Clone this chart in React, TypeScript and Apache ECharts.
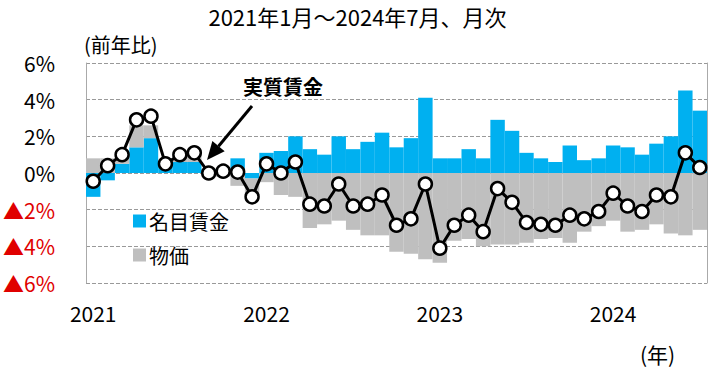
import React, { useEffect, useRef } from "react";
import * as echarts from "echarts";

const months: string[] = [];
for (let y = 2021; y <= 2024; y++) {
  for (let m = 1; m <= 12; m++) {
    if (y === 2024 && m > 7) break;
    months.push(`${y}-${String(m).padStart(2, "0")}`);
  }
}

// 名目賃金 (nominal wage, YoY %)
const nominal = [
  -1.3, -0.4, 0.5, 1.4, 1.9, 0.5, 0.6, 0.6, 0.2, 0.2, 0.8, -0.3,
  1.1, 1.2, 2.0, 1.3, 1.0, 2.0, 1.3, 1.7, 2.2, 1.4, 1.9, 4.1,
  0.8, 0.8, 1.3, 0.8, 2.9, 2.3, 1.1, 0.8, 0.6, 1.5, 0.7, 0.8,
  1.5, 1.4, 1.0, 1.6, 2.0, 4.5, 3.4,
];

// 物価 (price contribution)
const prices = [
  0.8, 0.8, 0.4, 1.2, 0.7, 0.1, 0.4, 0.4, -0.2, -0.2, -0.7, -0.9,
  -0.5, -1.2, -1.3, -3.0, -2.8, -2.6, -3.1, -3.4, -3.4, -4.3, -4.4, -4.7,
  -4.9, -3.7, -3.6, -4.0, -3.9, -3.9, -3.8, -3.6, -3.55, -3.8, -3.2, -2.9,
  -2.6, -3.2, -3.1, -2.8, -3.3, -3.4, -3.1,
];

// 実質賃金 (real wage, YoY %)
const real = [
  -0.45, 0.4, 1.0, 2.9, 3.1, 0.5, 1.0, 1.1, 0.0, 0.1, 0.05, -1.3,
  0.5, 0.0, 0.6, -1.7, -1.8, -0.6, -1.8, -1.7, -1.2, -2.85, -2.5, -0.6,
  -4.1, -2.85, -2.3, -3.2, -0.85, -1.6, -2.7, -2.8, -2.85, -2.3, -2.5, -2.1,
  -1.1, -1.8, -2.1, -1.2, -1.3, 1.1, 0.3,
];

const yTicks = [-6, -4, -2, 0, 2, 4, 6];

const FONT = "'Noto Sans CJK JP', 'Noto Sans', sans-serif";

export default function App() {
  const ref = useRef<HTMLDivElement>(null);
  useEffect(() => {
    if (!ref.current) return;
    const chart = echarts.init(ref.current, undefined, { renderer: "svg" });
    const tip = [207, 160];
    const from = [252, 106];
    const dx = tip[0] - from[0];
    const dy = tip[1] - from[1];
    const len = Math.sqrt(dx * dx + dy * dy);
    const ux = dx / len, uy = dy / len;
    const hl = 18, hw = 8;
    const bx = tip[0] - hl * ux, by = tip[1] - hl * uy;
    const nx = -uy, ny = ux;
    chart.setOption({
      animation: false,
      textStyle: { fontFamily: FONT },
      grid: { left: 85, right: 8, top: 63, bottom: 90, containLabel: false },
      legend: {
        data: ["名目賃金", "物価"],
        orient: "vertical",
        left: 128,
        top: 206,
        icon: "rect",
        itemWidth: 13,
        itemHeight: 13,
        itemGap: 14,
        textStyle: { fontSize: 20, color: "#000", fontFamily: FONT, padding: [0, 0, 0, -2] },
      },
      xAxis: {
        type: "category",
        data: months,
        axisLine: { show: false },
        axisTick: { show: false },
        axisLabel: {
          interval: (i: number) => i % 12 === 0,
          formatter: (v: string) => v.slice(0, 4),
          fontSize: 21,
          color: "#000",
          margin: 19,
          fontFamily: FONT,
        },
      },
      yAxis: [
        {
          type: "value",
          min: -6,
          max: 6,
          interval: 2,
          axisLine: { show: true, lineStyle: { color: "#aaa" } },
          axisTick: { show: false },
          splitLine: { show: true, lineStyle: { type: "dashed", color: "#999" } },
          axisLabel: {
            margin: 31,
            fontSize: 21,
            color: "#000",
            fontFamily: FONT,
            formatter: (v: number) =>
              yTicks.includes(v) && v < 0 ? `{r|▲${-v}%}` : `${v}%`,
            rich: { r: { color: "#E00000", fontSize: 21, fontFamily: FONT } },
          },
        },
        {
          type: "value",
          position: "right",
          min: -6,
          max: 6,
          interval: 2,
          axisLine: { show: true, lineStyle: { color: "#aaa" } },
          axisTick: { show: false },
          axisLabel: { show: false },
          splitLine: { show: false },
        },
      ],
      series: [
        {
          name: "名目賃金",
          type: "bar",
          stack: "w",
          barCategoryGap: "0%",
          itemStyle: { color: "#00B0F0" },
          data: nominal,
          z: 2,
        },
        {
          name: "物価",
          type: "bar",
          stack: "w",
          barCategoryGap: "0%",
          itemStyle: { color: "#BFBFBF" },
          data: prices,
          z: 2,
        },
        {
          name: "実質賃金",
          type: "line",
          data: real,
          symbol: "circle",
          symbolSize: 13,
          showAllSymbol: true,
          lineStyle: { color: "#000", width: 3 },
          itemStyle: { color: "#fff", borderColor: "#000", borderWidth: 2.5 },
          z: 5,
        },
      ],
      graphic: [
        {
          type: "text",
          left: "center",
          top: 5,
          style: {
            text: "2021年1月～2024年7月、月次",
            fontSize: 22,
            fill: "#000",
            fontFamily: FONT,
          },
        },
        {
          type: "text",
          x: 84,
          y: 34,
          style: { text: "(前年比)", fontSize: 20, fill: "#000", fontFamily: FONT },
        },
        {
          type: "text",
          x: 640,
          y: 343,
          style: { text: "(年)", fontSize: 21, fill: "#000", fontFamily: FONT },
        },
        {
          type: "text",
          x: 243,
          y: 76,
          style: {
            text: "実質賃金",
            fontSize: 20,
            fontWeight: "bold",
            fill: "#000",
            fontFamily: FONT,
          },
          z: 10,
        },
        {
          type: "line",
          shape: { x1: from[0], y1: from[1], x2: bx, y2: by },
          style: { stroke: "#000", lineWidth: 3 },
          z: 10,
        },
        {
          type: "polygon",
          shape: {
            points: [
              [tip[0], tip[1]],
              [bx + hw * nx, by + hw * ny],
              [bx - hw * nx, by - hw * ny],
            ],
          },
          style: { fill: "#000" },
          z: 10,
        },
      ],
    });
    return () => chart.dispose();
  }, []);
  return (
    <div
      ref={ref}
      style={{ position: "absolute", left: 0, top: 0, width: 715, height: 373, background: "#fff" }}
    />
  );
}
